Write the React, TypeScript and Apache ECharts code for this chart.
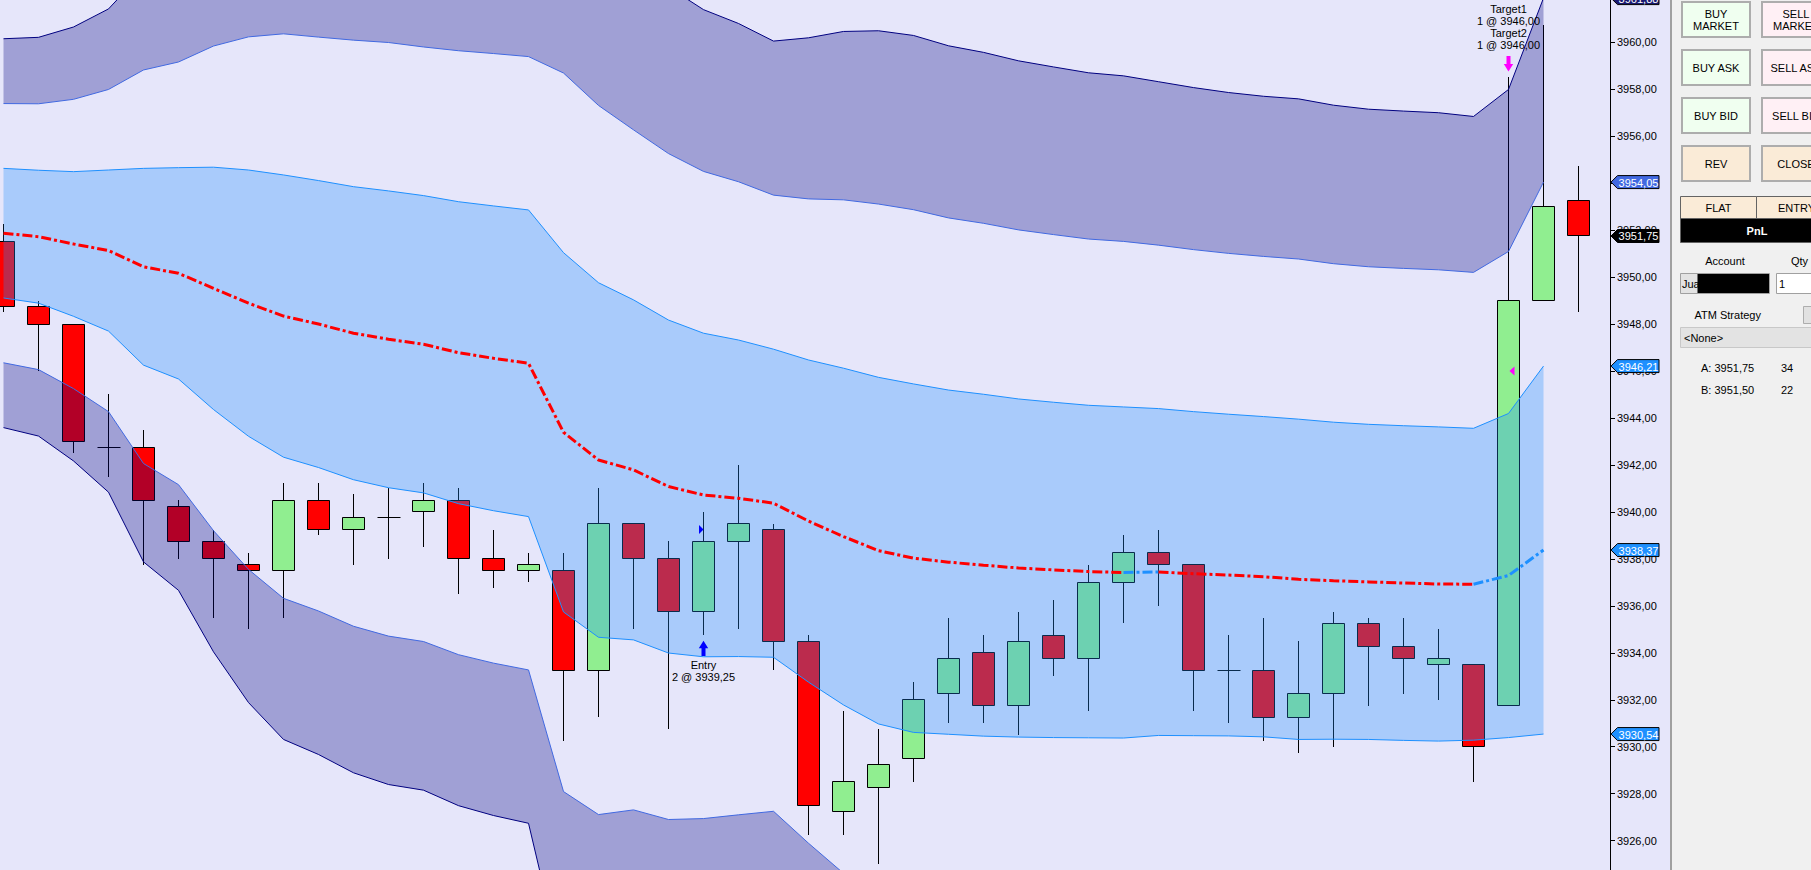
import React, { useEffect, useRef } from "react";
import * as echarts from "echarts";

// ---- candle data (bar index 0..45) ----
const opens = [3951.5, 3948.75, 3948.0, 3942.75, 3942.75, 3940.25, 3938.75, 3937.75, 3937.5, 3940.5, 3939.25, 3939.75, 3940.0, 3940.5, 3938.0, 3937.5, 3937.5, 3933.25, 3939.5, 3938.0, 3935.75, 3938.75, 3939.25, 3934.5, 3927.25, 3928.25, 3929.5, 3932.25, 3934.0, 3931.75, 3934.75, 3933.75, 3937.0, 3938.25, 3937.75, 3933.25, 3933.25, 3931.25, 3932.25, 3935.25, 3934.25, 3933.5, 3933.5, 3931.75, 3949.0, 3953.25];
const closes = [3948.75, 3948.0, 3943.0, 3942.75, 3940.5, 3938.75, 3938.0, 3937.5, 3940.5, 3939.25, 3939.75, 3939.75, 3940.5, 3938.0, 3937.5, 3937.75, 3933.25, 3939.5, 3938.0, 3935.75, 3938.75, 3939.5, 3934.5, 3927.5, 3928.5, 3929.25, 3932.0, 3933.75, 3931.75, 3934.5, 3933.75, 3937.0, 3938.25, 3937.75, 3933.25, 3933.25, 3931.25, 3932.25, 3935.25, 3934.25, 3933.75, 3933.75, 3930.0, 3949.0, 3953.0, 3951.75];
const lows = [3948.5, 3946.0, 3942.5, 3941.5, 3937.75, 3938.0, 3935.5, 3935.0, 3935.5, 3939.0, 3937.75, 3938.0, 3938.5, 3936.5, 3936.75, 3937.0, 3930.25, 3931.25, 3935.0, 3930.75, 3934.75, 3935.0, 3933.25, 3926.25, 3926.25, 3925.0, 3928.5, 3931.0, 3931.0, 3930.5, 3933.0, 3931.5, 3935.25, 3936.0, 3931.5, 3931.0, 3930.25, 3929.75, 3930.0, 3931.75, 3932.25, 3932.0, 3928.5, 3931.75, 3949.0, 3948.5];
const highs = [3952.25, 3949.0, 3948.0, 3945.0, 3943.5, 3940.5, 3939.25, 3938.25, 3941.25, 3941.25, 3940.75, 3941.0, 3941.25, 3941.0, 3939.25, 3938.25, 3938.25, 3941.0, 3939.5, 3938.75, 3940.0, 3942.0, 3939.5, 3934.75, 3931.5, 3930.75, 3932.75, 3935.5, 3934.75, 3935.75, 3936.25, 3937.75, 3939.0, 3939.25, 3937.75, 3934.75, 3935.5, 3934.5, 3935.75, 3935.5, 3935.5, 3935.0, 3933.5, 3958.5, 3960.75, 3954.75];

// ---- channel indicator (bar index 0..44) ----
const midline = [3951.87, 3951.72, 3951.41, 3951.13, 3950.44, 3950.16, 3949.52, 3948.89, 3948.34, 3948.0, 3947.61, 3947.35, 3947.14, 3946.78, 3946.54, 3946.33, 3943.39, 3942.21, 3941.79, 3941.08, 3940.72, 3940.58, 3940.37, 3939.61, 3938.95, 3938.35, 3938.03, 3937.86, 3937.73, 3937.61, 3937.53, 3937.46, 3937.42, 3937.44, 3937.37, 3937.31, 3937.24, 3937.13, 3937.07, 3937.02, 3936.97, 3936.93, 3936.92, 3937.29, 3938.3745];
const bandWidth = [2.76, 2.83, 3.08, 3.43, 4.19, 4.5, 5.16, 5.67, 6.01, 6.11, 6.24, 6.32, 6.33, 6.43, 6.49, 6.53, 7.65, 7.55, 7.24, 7.09, 6.89, 6.74, 6.56, 6.86, 7.17, 7.38, 7.42, 7.33, 7.28, 7.2, 7.14, 7.08, 7.05, 6.96, 6.9, 6.85, 6.82, 6.82, 6.75, 6.71, 6.7, 6.69, 6.64, 6.9, 7.8355];

// ---- axis ----
const yTicks = [3926, 3928, 3930, 3932, 3934, 3936, 3938, 3940, 3942, 3944, 3946, 3948, 3950, 3952, 3954, 3956, 3958, 3960];
const yMin = 3924.75;
const yMax = 3961.8;

// ---- trades ----
const entryBar = 20;
const entryPrice = 3939.25;
const entryQty = 2;
const exitBar = 43;
const exitPrice = 3946.0;
const target1Qty = 1;
const target2Qty = 1;

// ---- chart trader panel ----
const askPrice = 3951.75;
const bidPrice = 3951.5;
const askSize = 34;
const bidSize = 22;
const accountPrefix = "Jua";
const qtyValue = "1";

const FONT = '"Liberation Sans", Arial, sans-serif';
const UP = "#90EE90";
const DOWN = "#FF0000";
const NAVY = "#000080";
const ROYAL = "#4169E1";
const DODGER = "#1E90FF";
const PURPLE_FILL = "rgba(0,0,128,0.3)";
const BLUE_FILL = "rgba(30,144,255,0.3)";

// band multipliers of bandWidth around the midline: [lower edge, upper edge]
const bandDefs = [
  { lo: -3, hi: -2, fill: PURPLE_FILL },
  { lo: -1, hi: 1, fill: BLUE_FILL },
  { lo: 2, hi: 3, fill: PURPLE_FILL },
];
const edgeDefs = [
  { m: 3, color: NAVY },
  { m: 2, color: ROYAL },
  { m: 1, color: DODGER },
  { m: -1, color: DODGER },
  { m: -2, color: ROYAL },
  { m: -3, color: NAVY },
];

const fmt = (v: number) => v.toFixed(2).replace(".", ",");

function txt(text: string, x: number, y: number, opts: any = {}) {
  const align = opts.align || "left";
  return {
    type: "text",
    z: opts.z || 50,
    silent: true,
    style: {
      text,
      x,
      y,
      fill: opts.fill || "#000",
      font: `${opts.bold ? "bold " : ""}${opts.size || 11}px ${FONT}`,
      align,
      textAlign: align,
      verticalAlign: "middle",
      textVerticalAlign: "middle",
      lineHeight: opts.lineHeight || 12,
    },
  };
}

function rect(x: number, y: number, w: number, h: number, fill: string, stroke?: string, lw = 1, z = 40) {
  return {
    type: "rect",
    z,
    silent: true,
    shape: { x, y, width: w, height: h },
    style: { fill, stroke: stroke || "none", lineWidth: stroke ? lw : 0 },
  };
}

export default function App() {
  const ref = useRef<HTMLDivElement>(null);

  useEffect(() => {
    const el = ref.current!;
    const chart = echarts.init(el, null, { renderer: "svg" });

    const candleData = opens.map((o, k) => [k, o, closes[k], lows[k], highs[k]]);
    const lineAt = (m: number) => midline.map((v, k) => [k, v + m * bandWidth[k]]);

    const snap = (v: number) => Math.floor(v) + 0.5;

    const series: any[] = [
      {
        type: "custom",
        name: "candles",
        z: 1,
        silent: true,
        clip: true,
        encode: { x: 0, y: [1, 2, 3, 4] },
        data: candleData,
        renderItem: (params: any, api: any) => {
          const k = api.value(0);
          const o = api.value(1);
          const c = api.value(2);
          const l = api.value(3);
          const h = api.value(4);
          const pH = api.coord([k, h]);
          const pL = api.coord([k, l]);
          const pO = api.coord([k, o]);
          const pC = api.coord([k, c]);
          const cx = pH[0];
          const half = Math.round(api.size([1, 0])[0] * 0.315);
          const top = snap(Math.min(pO[1], pC[1]));
          const bot = snap(Math.max(pO[1], pC[1]));
          const children: any[] = [
            {
              type: "line",
              shape: { x1: cx, y1: Math.round(pH[1]), x2: cx, y2: Math.round(pL[1]) },
              style: { stroke: "#000", lineWidth: 1 },
            },
          ];
          if (o === c) {
            children.push({
              type: "line",
              shape: { x1: cx - half, y1: top, x2: cx + half + 1, y2: top },
              style: { stroke: "#000", lineWidth: 1 },
            });
          } else {
            children.push({
              type: "rect",
              shape: { x: cx - half, y: top, width: 2 * half, height: Math.max(1, bot - top) },
              style: { fill: c > o ? UP : DOWN, stroke: "#000", lineWidth: 1 },
            });
          }
          return { type: "group", children };
        },
      },
      {
        type: "custom",
        name: "bandFills",
        z: 2,
        silent: true,
        clip: true,
        encode: { x: 0, y: 1 },
        data: bandDefs.map((b, i) => [i, midline[0]]),
        renderItem: (params: any, api: any) => {
          const b = bandDefs[params.dataIndex];
          const upper = midline.map((v, k) => api.coord([k, v + b.hi * bandWidth[k]]));
          const lower = midline.map((v, k) => api.coord([k, v + b.lo * bandWidth[k]])).reverse();
          return {
            type: "polygon",
            shape: { points: upper.concat(lower) },
            style: { fill: b.fill, stroke: "none" },
          };
        },
      },
    ];

    edgeDefs.forEach((e, i) => {
      series.push({
        type: "line",
        name: "edge" + i,
        z: 3,
        silent: true,
        showSymbol: false,
        symbol: "none",
        data: lineAt(e.m),
        lineStyle: { color: e.color, width: 1 },
      });
    });

    // midline split into rising (blue) / falling (red) runs
    const segs: { from: number; to: number; up: boolean }[] = [];
    for (let k = 0; k < midline.length - 1; k++) {
      const up = midline[k + 1] > midline[k];
      const last = segs[segs.length - 1];
      if (last && last.up === up) last.to = k + 1;
      else segs.push({ from: k, to: k + 1, up });
    }
    segs.forEach((s, i) => {
      series.push({
        type: "line",
        name: "mid" + i,
        z: 5,
        silent: true,
        showSymbol: false,
        symbol: "none",
        data: midline.slice(s.from, s.to + 1).map((v, j) => [s.from + j, v]),
        lineStyle: { color: s.up ? DODGER : "#FF0000", width: 3, type: [10, 3, 3, 3], cap: "butt" },
      });
    });

    chart.setOption({
      animation: false,
      backgroundColor: "#E6E6FA",
      grid: { left: 0, right: 201, top: 0, bottom: 0, containLabel: false, outerBoundsMode: "none" },
      xAxis: {
        type: "value",
        min: -0.1,
        max: 45.9,
        show: false,
        axisLine: { show: false },
        splitLine: { show: false },
      },
      yAxis: {
        type: "value",
        position: "right",
        min: yMin,
        max: yMax,
        splitLine: { show: false },
        axisLine: { show: true, onZero: false, lineStyle: { color: "#000", width: 1 } },
        axisTick: { show: true, inside: false, length: 5, lineStyle: { color: "#000" }, customValues: yTicks },
        axisLabel: {
          show: true,
          margin: 7,
          color: "#000",
          fontSize: 11,
          fontFamily: FONT,
          customValues: yTicks,
          formatter: (v: number) => fmt(v),
        },
      },
      series,
    });

    const px = (x: number, y: number) => chart.convertToPixel({ gridIndex: 0 }, [x, y]) as number[];

    const g: any[] = [];

    // ---- price tags on the axis ----
    const last = midline.length - 1;
    const tags = [
      { v: midline[last] + 3 * bandWidth[last], fill: "#191970" },
      { v: midline[last] + 2 * bandWidth[last], fill: ROYAL },
      { v: closes[closes.length - 1], fill: "#000000" },
      { v: midline[last] + bandWidth[last], fill: DODGER },
      { v: midline[last], fill: DODGER },
      { v: midline[last] - bandWidth[last], fill: DODGER },
    ];
    const axisX = px(45.9, yMin)[0];
    tags.forEach((t) => {
      const y = px(0, t.v)[1];
      const x0 = axisX + 1;
      g.push({
        type: "polygon",
        z: 60,
        silent: true,
        shape: { points: [[x0, y], [x0 + 6.5, y - 6.5], [x0 + 48, y - 6.5], [x0 + 48, y + 6.5], [x0 + 6.5, y + 6.5]] },
        style: { fill: t.fill, stroke: "#000", lineWidth: 1 },
      });
      g.push(txt(fmt(t.v), x0 + 27.5, y + 0.5, { align: "center", fill: "#fff", z: 61 }));
    });

    // ---- entry annotation ----
    {
      const [cx, yLow] = px(entryBar, lows[entryBar]);
      const yE = px(entryBar, entryPrice)[1];
      const t = yLow + 5.5;
      g.push({
        type: "polygon", z: 55, silent: true,
        shape: { points: [[cx, t], [cx + 4.7, t + 7.5], [cx + 2, t + 7.5], [cx + 2, t + 15.3], [cx - 2, t + 15.3], [cx - 2, t + 7.5], [cx - 4.7, t + 7.5]] },
        style: { fill: "#0000FF" },
      });
      g.push({
        type: "polygon", z: 55, silent: true,
        shape: { points: [[cx - 4.5, yE - 4.5], [cx, yE], [cx - 4.5, yE + 4.5]] },
        style: { fill: "#0000FF" },
      });
      g.push(txt("Entry", cx, yLow + 30, { align: "center", fill: "#000" }));
      g.push(txt(`${entryQty} @ ${fmt(entryPrice)}`, cx, yLow + 42, { align: "center", fill: "#000" }));
    }

    // ---- target annotation ----
    {
      const [cx, yHigh] = px(exitBar, highs[exitBar]);
      const yX = px(exitBar, exitPrice)[1];
      const tip = yHigh - 6;
      g.push({
        type: "polygon", z: 55, silent: true,
        shape: { points: [[cx - 2, tip - 15.5], [cx + 2, tip - 15.5], [cx + 2, tip - 7.5], [cx + 4.7, tip - 7.5], [cx, tip], [cx - 4.7, tip - 7.5], [cx - 2, tip - 7.5]] },
        style: { fill: "#FF00FF" },
      });
      g.push({
        type: "polygon", z: 55, silent: true,
        shape: { points: [[cx + 1, yX], [cx + 6, yX - 4.5], [cx + 6, yX + 4.5]] },
        style: { fill: "#FF00FF" },
      });
      g.push(txt("Target1", cx, yHigh - 68.5, { align: "center" }));
      g.push(txt(`${target1Qty} @ ${fmt(exitPrice)}`, cx, yHigh - 56.5, { align: "center" }));
      g.push(txt("Target2", cx, yHigh - 44.5, { align: "center" }));
      g.push(txt(`${target2Qty} @ ${fmt(exitPrice)}`, cx, yHigh - 32.5, { align: "center" }));
    }

    // ---- chart trader panel ----
    g.push(rect(1670, 0, 2, 870, "#A0A0A0", undefined, 1, 70));
    g.push(rect(1672, 0, 139, 870, "#F0F0F0", undefined, 1, 70));
    const btnRows = [
      { y: 1, l: "BUY\nMARKET", r: "SELL\nMARKET", lf: "#F0FFF0", rf: "#FFF0F5" },
      { y: 49, l: "BUY ASK", r: "SELL ASK", lf: "#F0FFF0", rf: "#FFF0F5" },
      { y: 97, l: "BUY BID", r: "SELL BID", lf: "#F0FFF0", rf: "#FFF0F5" },
      { y: 145, l: "REV", r: "CLOSE", lf: "#FAEBD7", rf: "#FAEBD7" },
    ];
    btnRows.forEach((b) => {
      g.push(rect(1682, b.y + 1, 68, 35, b.lf, "#ADADAD", 2, 71));
      g.push(rect(1762, b.y + 1, 68, 35, b.rf, "#ADADAD", 2, 71));
      g.push(txt(b.l, 1716, b.y + 19, { align: "center", z: 72 }));
      g.push(txt(b.r, 1796, b.y + 19, { align: "center", z: 72 }));
    });
    g.push(rect(1680.5, 196.5, 76, 22, "#FAEBD7", "#646464", 1, 71));
    g.push(rect(1756.5, 196.5, 80, 22, "#FAEBD7", "#646464", 1, 71));
    g.push(txt("FLAT", 1718.5, 207.5, { align: "center", z: 72 }));
    g.push(txt("ENTRY", 1796.5, 207.5, { align: "center", z: 72 }));
    g.push(rect(1680.5, 218.5, 156, 24, "#000000", "#646464", 1, 71));
    g.push(txt("PnL", 1757, 230.5, { align: "center", fill: "#fff", bold: true, z: 72 }));
    g.push(txt("Account", 1725, 261, { align: "center", z: 72 }));
    g.push(txt("Qty", 1799.5, 261, { align: "center", z: 72 }));
    g.push(rect(1680.5, 273.5, 89, 20, "#E3E3E3", "#A0A0A0", 1, 71));
    g.push(txt(accountPrefix, 1682, 284, { z: 72 }));
    g.push(rect(1697.5, 274, 71.5, 19, "#000000", undefined, 1, 73));
    g.push(rect(1776.5, 273.5, 60, 20, "#FFFFFF", "#A0A0A0", 1, 71));
    g.push(txt(qtyValue, 1779, 283.5, { z: 72 }));
    g.push(txt("ATM Strategy", 1694.5, 315, { z: 72 }));
    g.push(rect(1803.5, 306.5, 30, 17, "#E1E1E1", "#ADADAD", 1, 71));
    g.push(rect(1680.5, 327.5, 156, 20, "#E3E3E3", "#C8C8C8", 1, 71));
    g.push(txt("<None>", 1684, 337.5, { z: 72 }));
    g.push(txt(`A: ${fmt(askPrice)}`, 1701, 367.5, { z: 72 }));
    g.push(txt(String(askSize), 1781, 367.5, { z: 72 }));
    g.push(txt(`B: ${fmt(bidPrice)}`, 1701, 389.5, { z: 72 }));
    g.push(txt(String(bidSize), 1781, 389.5, { z: 72 }));

    chart.setOption({ graphic: { elements: g } });

    return () => {
      chart.dispose();
    };
  }, []);

  return (
    <div
      ref={ref}
      style={{ position: "fixed", left: 0, top: 0, width: 1811, height: 870, overflow: "hidden" }}
    />
  );
}
